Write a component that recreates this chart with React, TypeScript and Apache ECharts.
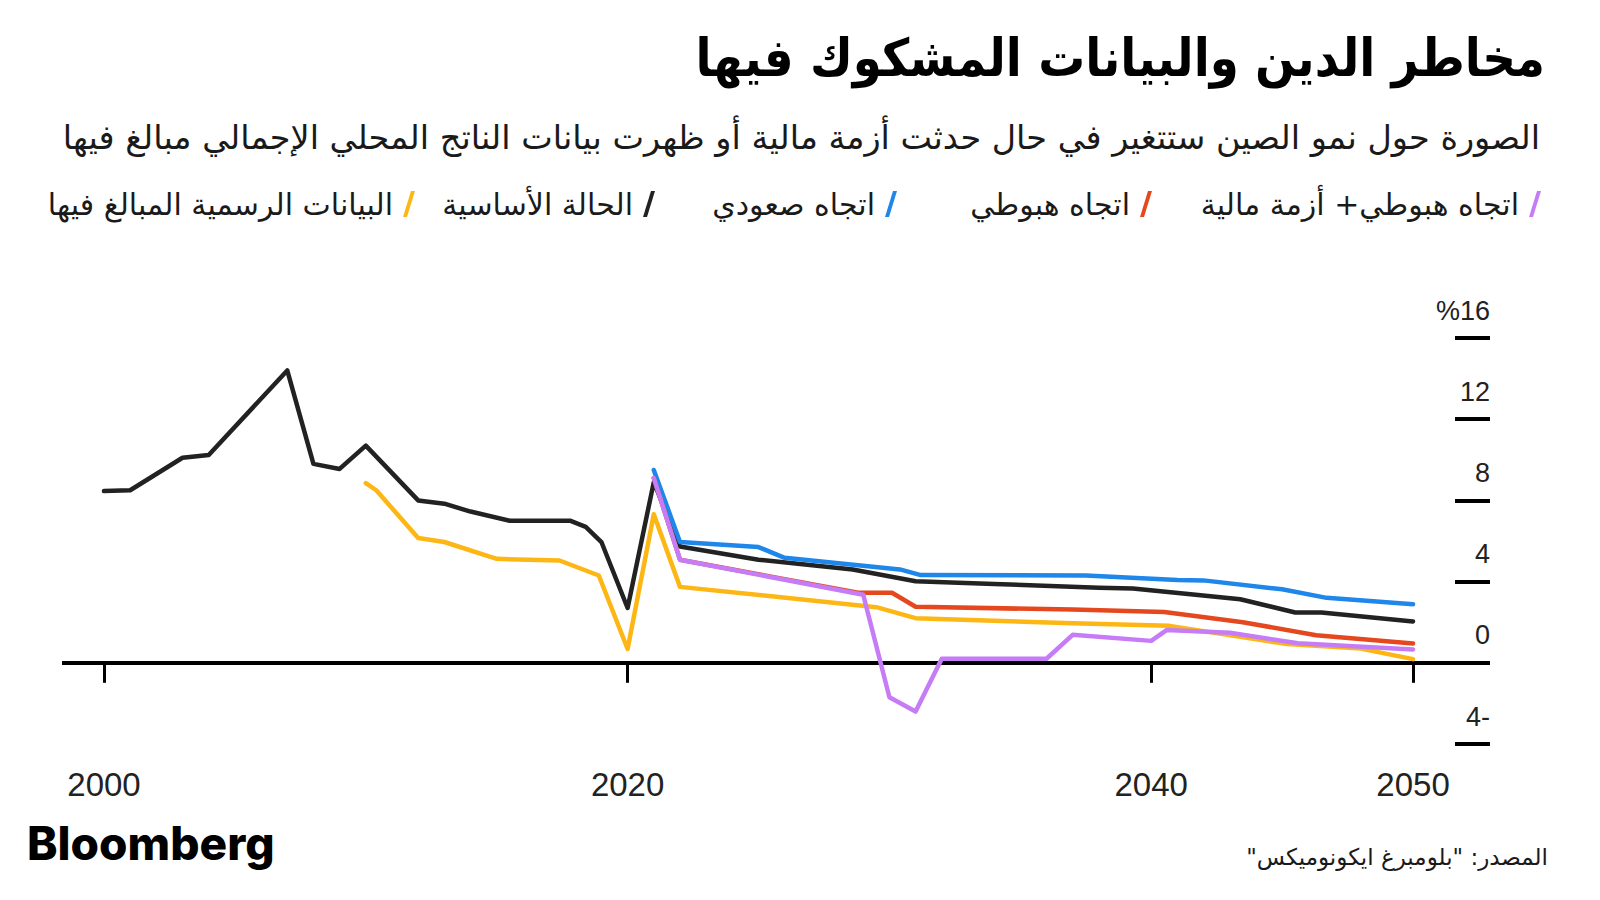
import React, { useEffect, useRef } from "react";
import * as echarts from "echarts";

const titleText = "مخاطر الدين والبيانات المشكوك فيها";
const subtitleText =
  "الصورة حول نمو الصين ستتغير في حال حدثت أزمة مالية أو ظهرت بيانات الناتج المحلي الإجمالي مبالغ فيها";
const sourceText = 'المصدر: "بلومبرغ ايكونوميكس"\u200F';
const brandText = "Bloomberg";

const nameInflated = "البيانات الرسمية المبالغ فيها";
const nameBase = "الحالة الأساسية";
const nameUp = "اتجاه صعودي";
const nameDown = "اتجاه هبوطي";
const nameCrisis = "اتجاه هبوطي+ أزمة مالية";

const xTickYears = [2000, 2020, 2040, 2050];

// [year, GDP growth %]
const baseData = [
  [2000, 8.46], [2001, 8.5], [2003, 10.1], [2004, 10.24], [2007, 14.4], [2008, 9.8],
  [2009, 9.55], [2010, 10.7], [2012, 8.0], [2013, 7.84], [2014, 7.45], [2015.5, 7.0],
  [2017.8, 7.0], [2018.4, 6.7], [2019, 5.95], [2020, 2.7], [2021, 8.9], [2022, 5.73],
  [2025, 5.08], [2028.6, 4.6], [2031, 4.02], [2034, 3.88], [2038, 3.7], [2039.3, 3.66],
  [2041.6, 3.36], [2043.4, 3.13], [2045.5, 2.48], [2046.5, 2.48], [2050, 2.04],
];
const inflatedData = [
  [2010, 8.85], [2010.4, 8.5], [2012, 6.15], [2013, 5.95], [2015, 5.12], [2017.4, 5.04],
  [2018.9, 4.3], [2020, 0.68], [2021, 7.32], [2022, 3.74], [2029.5, 2.74], [2031, 2.2],
  [2037, 1.95], [2040.7, 1.82], [2045.2, 0.92], [2048, 0.7], [2050, 0.18],
];
const upData = [
  [2021, 9.5], [2022, 5.95], [2025, 5.7], [2026, 5.17], [2030.4, 4.6], [2031.2, 4.32],
  [2037.5, 4.3], [2041, 4.08], [2042, 4.06], [2045, 3.62], [2046.7, 3.2], [2050, 2.88],
];
const downData = [
  [2021, 9.1], [2022, 5.08], [2028.8, 3.45], [2030.1, 3.45], [2031, 2.76], [2037, 2.62],
  [2040.5, 2.5], [2043.5, 2.0], [2046.3, 1.36], [2050, 0.95],
];
const crisisData = [
  [2021, 9.1], [2022, 5.08], [2029, 3.35], [2030, -1.7], [2031, -2.4], [2032, 0.2],
  [2036, 0.2], [2037, 1.38], [2040, 1.08], [2040.6, 1.62], [2043, 1.48], [2045.6, 0.96],
  [2050, 0.66],
];

const C_YELLOW = "#FDB714";
const C_BLACK = "#222222";
const C_BLUE = "#1F86EA";
const C_RED = "#E5481E";
const C_PURPLE = "#C57CF6";

const AR_FONT = "'DejaVu Sans', sans-serif";
const AR_TITLE_FONT = "'DejaVu Sans Condensed', 'DejaVu Sans', sans-serif";
const NUM_FONT = "'Liberation Sans', Arial, sans-serif";
const SLASH = "path://M8,0 L12,0 L4,26 L0,26 Z";

function legendItem(name: string, right: number) {
  return {
    data: [name],
    right,
    top: 184,
    align: "right",
    icon: SLASH,
    itemWidth: 12,
    itemHeight: 26,
    selectedMode: false,
    textStyle: {
      fontSize: 30,
      color: "#1a1a1a",
      fontFamily: AR_FONT,
      padding: [0, 5, 0, 0],
    },
  };
}

function lineSeries(name: string, data: number[][], color: string, z: number, extra: any = {}) {
  return {
    type: "line",
    name,
    data,
    color,
    z,
    showSymbol: false,
    symbol: "none",
    lineStyle: { color, width: 4.5, cap: "round", join: "round" },
    itemStyle: { color },
    ...extra,
  };
}

export default function App() {
  const ref = useRef<HTMLDivElement>(null);
  useEffect(() => {
    if (!ref.current) return;
    const chart = echarts.init(ref.current, null, { renderer: "svg" });
    chart.setOption({
      animation: false,
      backgroundColor: "#ffffff",
      grid: { left: 62, right: 110, top: 338, bottom: 156, containLabel: false },
      xAxis: {
        type: "value",
        min: 1998.396,
        max: 2052.94,
        axisLine: { show: false },
        splitLine: { show: false },
        axisTick: {
          show: true,
          customValues: xTickYears,
          length: 20,
          lineStyle: { color: "#000", width: 3 },
        },
        axisLabel: {
          customValues: xTickYears,
          formatter: (v: number) => String(v),
          fontSize: 33,
          color: "#222",
          fontFamily: NUM_FONT,
          margin: 24,
        },
      },
      yAxis: {
        type: "value",
        min: -4,
        max: 16,
        interval: 4,
        position: "right",
        axisLine: { show: false },
        splitLine: { show: false },
        axisTick: {
          show: true,
          inside: true,
          length: 35,
          lineStyle: { color: "#000", width: 4 },
        },
        axisLabel: {
          inside: true,
          margin: 0,
          fontSize: 27,
          color: "#222",
          fontFamily: NUM_FONT,
          align: "right",
          verticalAlign: "bottom",
          padding: [0, 0, 14, 0],
          formatter: (v: number) => (v === 16 ? "%16" : v < 0 ? `${-v}-` : String(v)),
        },
      },
      legend: [
        legendItem(nameCrisis, 54),
        legendItem(nameDown, 443),
        legendItem(nameUp, 698),
        legendItem(nameBase, 940),
        legendItem(nameInflated, 1180),
      ],
      graphic: [
        {
          type: "text",
          x: 1545,
          y: 58,
          style: {
            text: titleText,
            fontSize: 52,
            fontWeight: "bold",
            fontFamily: AR_TITLE_FONT,
            fill: "#000",
            textAlign: "right",
            textVerticalAlign: "middle",
          },
        },
        {
          type: "text",
          x: 1540,
          y: 137,
          style: {
            text: subtitleText,
            fontSize: 33.5,
            fontFamily: AR_FONT,
            fill: "#1a1a1a",
            textAlign: "right",
            textVerticalAlign: "middle",
          },
        },
        {
          type: "text",
          x: 27,
          y: 843,
          style: {
            text: brandText,
            fontSize: 46,
            fontWeight: 800,
            fontFamily: "Inter, 'Liberation Sans', sans-serif",
            fill: "#000",
            textAlign: "left",
            textVerticalAlign: "middle",
          },
        },
        {
          type: "text",
          x: 1548,
          y: 857,
          style: {
            text: sourceText,
            fontSize: 23,
            fontFamily: AR_FONT,
            fill: "#1a1a1a",
            textAlign: "right",
            textVerticalAlign: "middle",
          },
        },
      ],
      series: [
        lineSeries(nameInflated, inflatedData, C_YELLOW, 3, {
          markLine: {
            silent: true,
            symbol: "none",
            label: { show: false },
            lineStyle: { color: "#000", width: 4, type: "solid" },
            data: [{ yAxis: 0 }],
            z: 1,
          },
        }),
        lineSeries(nameBase, baseData, C_BLACK, 4),
        lineSeries(nameUp, upData, C_BLUE, 5),
        lineSeries(nameDown, downData, C_RED, 6),
        lineSeries(nameCrisis, crisisData, C_PURPLE, 7),
      ],
    });
    return () => chart.dispose();
  }, []);
  return (
    <div
      ref={ref}
      style={{ position: "fixed", left: 0, top: 0, width: 1600, height: 900, background: "#fff" }}
    />
  );
}
